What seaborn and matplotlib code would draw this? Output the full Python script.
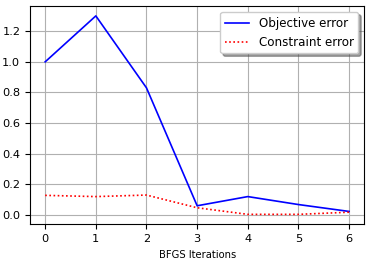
import pandas as pd
import seaborn as sns
import matplotlib
matplotlib.use('Agg')
import matplotlib.pyplot as plt

# values
iterations = [0, 1, 2, 3, 4, 5, 6]
objective_error = [1.0, 1.3, 0.83, 0.06, 0.12, 0.068, 0.023]
constraint_error = [0.128, 0.12, 0.13, 0.047, 0.004, 0.004, 0.018]

df = pd.DataFrame({'iter': iterations,
                   'Objective error': objective_error,
                   'Constraint error': constraint_error})
long_df = df.melt(id_vars='iter', var_name='series', value_name='error')

fig = plt.figure(figsize=(3.72, 2.62), dpi=100)
ax = fig.add_axes([0.0806, 0.144, 0.8987, 0.8332])

sns.lineplot(data=long_df, x='iter', y='error', hue='series', style='series',
             palette={'Objective error': 'blue', 'Constraint error': 'red'},
             dashes={'Objective error': '', 'Constraint error': (1, 1.5)},
             linewidth=1.2, ax=ax)

ax.grid(True, color='#b0b0b0', linewidth=0.8)
ax.set_axisbelow(True)
ax.set_xlabel('BFGS Iterations', fontsize=7.2)
ax.set_ylabel('')
ax.tick_params(labelsize=8.2)
for s in ax.spines.values():
    s.set_color('black')

handles, labels = ax.get_legend_handles_labels()
ax.legend(handles=handles, labels=labels, loc='upper right', fontsize=8.6,
          shadow=True, fancybox=True, framealpha=1)

fig.savefig('out.png', dpi=100)
